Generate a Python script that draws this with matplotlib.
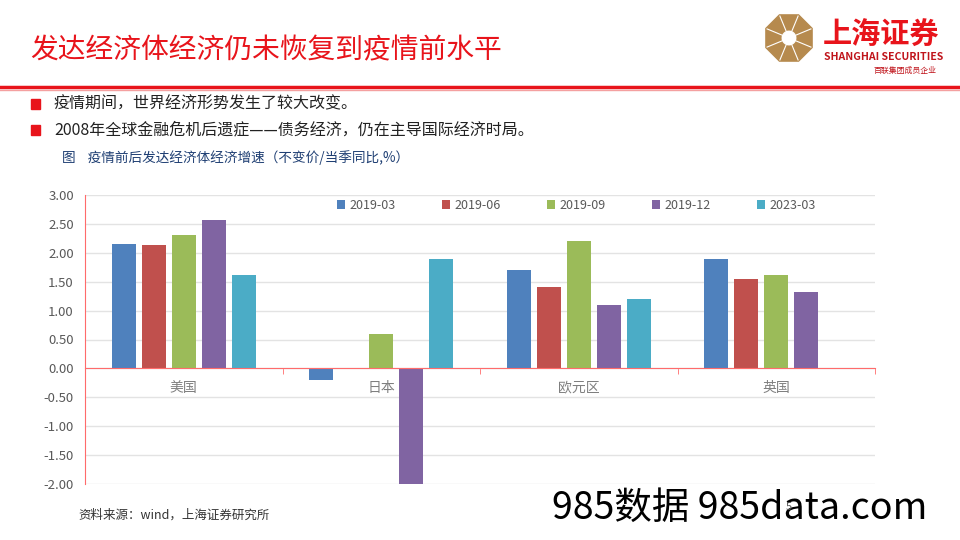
import matplotlib
matplotlib.use('Agg')
import matplotlib.pyplot as plt
from matplotlib.patches import Rectangle, RegularPolygon, Circle
import numpy as np

plt.rcParams['font.family'] = ['Noto Sans CJK SC', 'DejaVu Sans']

# 数据
regions = ['美国', '日本', '欧元区', '英国']
periods = ['2019-03', '2019-06', '2019-09', '2019-12', '2023-03']
v_2019_03 = [2.16, -0.20, 1.70, 1.90]
v_2019_06 = [2.13, 0.00, 1.40, 1.55]
v_2019_09 = [2.30, 0.60, 2.20, 1.62]
v_2019_12 = [2.57, -2.00, 1.10, 1.33]
v_2023_03 = [1.61, 1.90, 1.20, np.nan]
series = [v_2019_03, v_2019_06, v_2019_09, v_2019_12, v_2023_03]
colors = ['#4F81BD', '#C0504D', '#9BBB59', '#8064A2', '#4BACC6']
yticks = [3.0, 2.5, 2.0, 1.5, 1.0, 0.5, 0.0, -0.5, -1.0, -1.5, -2.0]

fig = plt.figure(figsize=(9.6, 5.4), dpi=100)

# 页眉
fig.text(30/960, 1-50/540, '发达经济体经济仍未恢复到疫情前水平', color='#E8141B',
         fontsize=20, va='center', ha='left')
fig.add_artist(plt.Line2D([0, 1], [1-87/540, 1-87/540], color='#E8141B', lw=2.5))
fig.add_artist(plt.Line2D([0, 1], [1-90/540, 1-90/540], color='#F4A0A0', lw=1))

# logo
logo = fig.add_axes([764/960, 1-63/540, 50/960, 50/540])
logo.set_xlim(-1, 1)
logo.set_ylim(-1, 1)
logo.set_aspect('equal')
logo.axis('off')
logo.add_patch(RegularPolygon((0, 0), 8, radius=1.0, orientation=np.pi/8, color='#B68A4E'))
for a in np.linspace(0, 2*np.pi, 8, endpoint=False) + np.pi/8:
    logo.plot([0.25*np.cos(a), 0.95*np.cos(a)], [0.25*np.sin(a), 0.95*np.sin(a)], color='white', lw=0.8)
logo.add_patch(Circle((0, 0), 0.27, color='white'))
fig.text(823/960, 1-35/540, '上海证券', color='#E8141B', fontsize=21, fontweight='bold', va='center')
fig.text(824/960, 1-57/540, 'SHANGHAI SECURITIES', color='#C0141B', fontsize=7.6, fontweight='bold', va='center')
fig.text(936/960, 1-70/540, '百联集团成员企业', color='#C0141B', fontsize=5.7, ha='right', va='center')

# 要点
bullets = ['疫情期间，世界经济形势发生了较大改变。',
           '2008年全球金融危机后遗症——债务经济，仍在主导国际经济时局。']
for i, b in enumerate(bullets):
    yy = 1 - (104 + 26*i)/540
    fig.add_artist(Rectangle((31/960, yy-5/540), 9/960, 10/540, color='#E8141B'))
    fig.text(54/960, yy, b, fontsize=11.5, color='#222222', va='center')

fig.text(62/960, 1-158/540, '图    疫情前后发达经济体经济增速（不变价/当季同比,%）',
         fontsize=9.8, color='#1F3F73', va='center')

# 图表
ax = fig.add_axes([85/960, 1-484/540, 790/960, 289/540])
x = np.arange(len(regions))
step = 0.152
width = 0.122
for k, (vals, c, lab) in enumerate(zip(series, colors, periods)):
    ax.bar(x + (k-2)*step, vals, width, color=c, label=lab, zorder=3)

ax.set_xlim(-0.5, 3.5)
ax.set_ylim(-2.0, 3.0)
ax.set_yticks(yticks)
ax.set_yticklabels(['%.2f' % t for t in yticks])
ax.grid(axis='y', color='#E3E3E3', lw=1, zorder=0)
ax.set_axisbelow(True)
for s in ['top', 'right']:
    ax.spines[s].set_visible(False)
ax.spines['left'].set_color('#FF6B6B')
ax.spines['bottom'].set_position(('data', 0))
ax.spines['bottom'].set_color('#FF6B6B')
ax.spines['bottom'].set_zorder(4)
ax.set_xticks(x)
ax.set_xticklabels(regions)
ax.set_xticks([-0.5, 0.5, 1.5, 2.5, 3.5], minor=True)
ax.tick_params(axis='x', which='major', length=0, pad=9, labelsize=10, labelcolor='#7F7F7F')
ax.tick_params(axis='x', which='minor', length=4, color='#FF6B6B')
ax.tick_params(axis='y', length=0, pad=8, labelsize=9.5, labelcolor='#595959')

ax.legend(loc='center', bbox_to_anchor=(0.622, 0.965), ncol=5, frameon=False,
          handlelength=0.7, handleheight=0.7, handletextpad=0.35, columnspacing=3.65,
          fontsize=9, labelcolor='#595959')

# 页脚
fig.text(78/960, 1-515/540, '资料来源：wind，上海证券研究所', fontsize=9, color='#333333', va='center')
fig.text(552/960, 1-508/540, '985数据 985data.com', fontsize=27, color='black', va='center', zorder=5)
fig.text(786/960, 1-507/540, '5', fontsize=8, color='#555555', va='center', zorder=6)

fig.savefig('out.png', dpi=100)
